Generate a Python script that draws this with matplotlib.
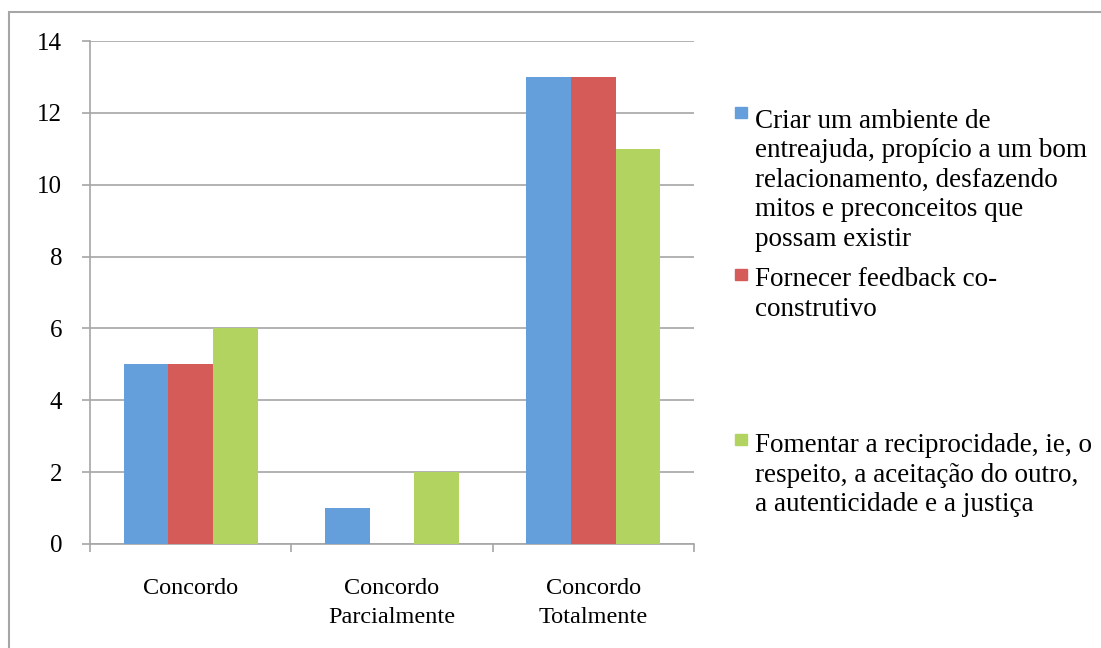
import matplotlib
matplotlib.use("Agg")
import matplotlib.pyplot as plt
from matplotlib.patches import Rectangle
from matplotlib.transforms import ScaledTranslation
import numpy as np

categories = ["Concordo", "Concordo\nParcialmente", "Concordo\nTotalmente"]
series_names = [
    "Criar um ambiente de\nentreajuda, propício a um bom\nrelacionamento, desfazendo\nmitos e preconceitos que\npossam existir",
    "Fornecer feedback co-\nconstrutivo",
    "Fomentar a reciprocidade, ie, o\nrespeito, a aceitação do outro,\na autenticidade e a justiça",
]
values_criar = [5, 1, 13]
values_fornecer = [5, 0, 13]
values_fomentar = [6, 2, 11]
values = [values_criar, values_fornecer, values_fomentar]
colors = ["#659fdb", "#d45b58", "#b2d360"]
yticks = [0, 2, 4, 6, 8, 10, 12, 14]

plt.rcParams['font.family'] = ['Liberation Serif', 'DejaVu Serif']

W, H = 1101, 648
fig = plt.figure(figsize=(W / 100, H / 100), dpi=100)
ax = fig.add_axes([90 / W, 1 - 544 / H, (694 - 90) / W, (544 - 41) / H])

x = np.arange(len(categories))
bw = 0.222
for i, (vals, col) in enumerate(zip(values, colors)):
    ax.bar(x + (i - 1) * bw, vals, width=bw, color=col, zorder=3)

ax.set_xlim(-0.5, 2.5)
ax.set_ylim(0, 14)
ax.set_yticks(yticks)
ax.set_yticklabels([str(t) for t in yticks], fontsize=18)
ax.yaxis.grid(True, color="#a6a6a6", linewidth=1.2, zorder=0)
ax.set_xticks([-0.5, 0.5, 1.5, 2.5])
ax.set_xticklabels([])
ax.tick_params(axis='y', length=6, width=1.2, color="#a6a6a6", pad=14)
ax.tick_params(axis='x', length=6, width=1.2, color="#a6a6a6")
for s in ["top", "right"]:
    ax.spines[s].set_visible(False)
for s in ["left", "bottom"]:
    ax.spines[s].set_color("#a6a6a6")
    ax.spines[s].set_linewidth(1.2)

# category labels (first-line baseline ~594 px, line step ~29 px)
for xi, lab in zip(x, categories):
    n = lab.count("\n")
    last_base = 594 + n * 29
    tr = ax.get_xaxis_transform() + ScaledTranslation(0, -(last_base - 544) / 100, fig.dpi_scale_trans)
    ax.text(xi, 0, lab, ha="center", va="baseline", fontsize=17.5,
            linespacing=1.48, transform=tr)

# legend (manual placement; first-line baselines, line step ~30.7 px)
leg_base = [123, 285, 450]
for name, col, yb in zip(series_names, colors, leg_base):
    fig.patches.append(Rectangle((735 / W, 1 - (yb - 5) / H), 12 / W, 11 / H,
                                 transform=fig.transFigure, color=col))
    n = name.count("\n")
    last_base = yb + n * 30.7
    fig.text(755 / W, 1 - last_base / H, name, ha="left", va="baseline",
             fontsize=19.5, linespacing=1.24)

# outer frame
fig.patches.append(Rectangle((9 / W, -0.1), 1.2, 1 - 12 / H + 0.1,
                             transform=fig.transFigure, fill=False,
                             edgecolor="#a6a6a6", linewidth=1.5))

fig.savefig("out.png", dpi=100)
